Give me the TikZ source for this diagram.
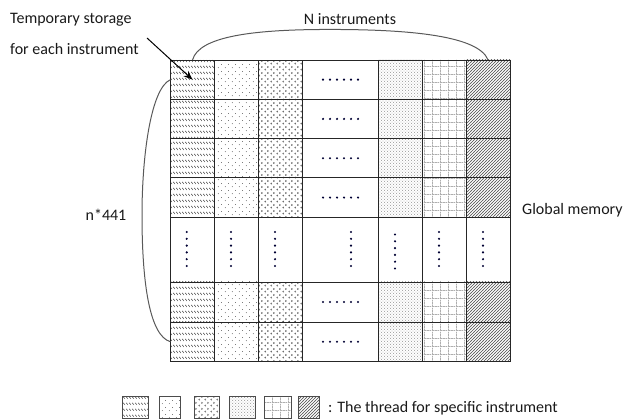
\documentclass[tikz,border=0pt]{standalone}
\usepackage{fontspec}
\setmainfont{Carlito}
\usetikzlibrary{patterns,arrows.meta}

\pgfdeclarepatternformonly{bslash}{\pgfqpoint{0pt}{0pt}}{\pgfqpoint{3.1pt}{5.8pt}}{\pgfqpoint{3.1pt}{5.8pt}}{%
  \pgfsetlinewidth{0.55pt}%
  \pgfpathmoveto{\pgfqpoint{0.3pt}{4.2pt}}\pgfpathlineto{\pgfqpoint{2.4pt}{2.2pt}}\pgfusepath{stroke}}
\pgfdeclarepatternformonly{sdots}{\pgfqpoint{0pt}{0pt}}{\pgfqpoint{7pt}{7pt}}{\pgfqpoint{7pt}{7pt}}{%
  \pgfpathcircle{\pgfqpoint{1.5pt}{1.5pt}}{0.5pt}%
  \pgfpathcircle{\pgfqpoint{5pt}{5pt}}{0.5pt}%
  \pgfusepath{fill}}
\pgfdeclarepatternformonly{chev}{\pgfqpoint{0pt}{0pt}}{\pgfqpoint{6pt}{6pt}}{\pgfqpoint{6pt}{6pt}}{%
  \pgfsetlinewidth{0.5pt}%
  \pgfpathmoveto{\pgfqpoint{2.2pt}{2.4pt}}\pgfpathlineto{\pgfqpoint{0.8pt}{1.6pt}}\pgfpathlineto{\pgfqpoint{2.2pt}{0.8pt}}%
  \pgfpathmoveto{\pgfqpoint{3.8pt}{5.4pt}}\pgfpathlineto{\pgfqpoint{5.2pt}{4.6pt}}\pgfpathlineto{\pgfqpoint{3.8pt}{3.8pt}}%
  \pgfusepath{stroke}}
\pgfdeclarepatternformonly{ddots}{\pgfqpoint{0pt}{0pt}}{\pgfqpoint{2.8pt}{2.8pt}}{\pgfqpoint{2.8pt}{2.8pt}}{%
  \pgfpathcircle{\pgfqpoint{0.7pt}{0.7pt}}{0.45pt}%
  \pgfpathcircle{\pgfqpoint{2.1pt}{2.1pt}}{0.35pt}%
  \pgfusepath{fill}}
\pgfdeclarepatternformonly{dgrid}{\pgfqpoint{0pt}{0pt}}{\pgfqpoint{8pt}{8pt}}{\pgfqpoint{8pt}{8pt}}{%
  \pgfsetlinewidth{0.6pt}%
  \pgfsetdash{{0.8pt}{0.8pt}}{0pt}%
  \pgfpathmoveto{\pgfqpoint{0pt}{0.5pt}}\pgfpathlineto{\pgfqpoint{8pt}{0.5pt}}%
  \pgfpathmoveto{\pgfqpoint{0.5pt}{0pt}}\pgfpathlineto{\pgfqpoint{0.5pt}{8pt}}%
  \pgfusepath{stroke}}
\pgfdeclarepatternformonly{nelines}{\pgfqpoint{-0.5pt}{-0.5pt}}{\pgfqpoint{3.5pt}{3.5pt}}{\pgfqpoint{3pt}{3pt}}{%
  \pgfsetlinewidth{0.45pt}%
  \pgfpathmoveto{\pgfqpoint{-0.3pt}{-0.3pt}}\pgfpathlineto{\pgfqpoint{3.3pt}{3.3pt}}\pgfusepath{stroke}}

\tikzset{
  every node/.style={font=\fontsize{16}{19}\selectfont},
  cell/.style={draw=black!85, line width=0.9pt, inner sep=0pt, outer sep=0pt, anchor=north west},
  legbox/.style={draw=black!70, line width=0.6pt, inner sep=0pt, outer sep=0pt, anchor=north west, minimum height=22pt},
  lbl/.style={inner sep=0pt, text=black!90},
  brace/.style={draw=black!65, line width=1pt},
  dotf/.style={fill=black!80!blue},
}

\begin{document}
\begin{tikzpicture}[x=1pt,y=-1pt]
\useasboundingbox (0,0) rectangle (626,419);

% patterned cells
\foreach \c/\xl/\w/\pat/\pc in {1/170.5/44/bslash/black!75, 2/214.5/44/sdots/black!70, 3/258.5/44/chev/black!70, 5/378/44.3/ddots/black!60, 6/422.3/43.9/dgrid/black!75, 7/466.2/43.8/nelines/black!70}
  \foreach \r/\yt/\h in {1/60/39.3, 2/99.3/39.3, 3/138.6/39.3, 4/177.9/39.3, 6/282/40, 7/322/39.5}
    \node[cell, pattern=\pat, pattern color=\pc, minimum width=\w pt, minimum height=\h pt] (c\c-\r) at (\xl,\yt) {};

% column 4 (horizontal dots)
\foreach \r/\yt/\h in {1/60/39.3, 2/99.3/39.3, 3/138.6/39.3, 4/177.9/39.3, 6/282/40, 7/322/39.5} {
  \node[cell, minimum width=75.5pt, minimum height=\h pt] (c4-\r) at (302.5,\yt) {};
  \foreach \k in {0,...,5}
    \fill[dotf] (323+7*\k, \yt+\h/2) circle (1.2);
}

% dots row
\foreach \c/\xl/\w/\dx/\dy in {1/170.5/44/186.7/232, 2/214.5/44/231/232, 3/258.5/44/275/232, 4/302.5/75.5/351/232, 5/378/44.3/395/234.5, 6/422.3/43.9/439/232, 7/466.2/43.8/483/232} {
  \node[cell, minimum width=\w pt, minimum height=64.8pt] (c\c-5) at (\xl,217.2) {};
  \foreach \k in {0,...,5}
    \fill[dotf] (\dx,\dy+6.8*\k) circle (1.2);
}

% labels
\node[lbl, anchor=west] (tmp1) at (10,20) {Temporary storage};
\node[lbl, anchor=west] (tmp2) at (10,49) {for each instrument};
\node[lbl] (ninst) at (350,19) {N instruments};
\node[lbl] (nlab) at (106,215) {n*441};
\node[lbl, anchor=west] (glob) at (522,210) {Global memory};

% arrow
\coordinate (arrstart) at (147,38);
\draw[line width=1pt, -{Stealth[length=9pt,width=7pt]}] (arrstart) -- (c1-1.center);

% braces
\draw[brace] (c1-1.north) .. controls (199,36) and (255,30) .. (320,29.5)
  .. controls (400,29) and (478,34) .. (c7-1.north);
\draw[brace] (c1-1.west) .. controls (151,88) and (142,155) .. (142,215)
  .. controls (142,285) and (150,336) .. (c1-7.west);

% legend
\foreach \i/\xl/\w/\pat/\pc in {1/122/26/bslash/black!75, 2/159/21/sdots/black!70, 3/194/25/chev/black!70, 4/229/26/ddots/black!60, 5/264/27/dgrid/black!75, 6/298/21/nelines/black!70}
  \node[legbox, pattern=\pat, pattern color=\pc, minimum width=\w pt] (leg\i) at (\xl,396) {};
\node[lbl, anchor=west] (legtxt) at (328,408) {: The thread for specific instrument};
\end{tikzpicture}
\end{document}
